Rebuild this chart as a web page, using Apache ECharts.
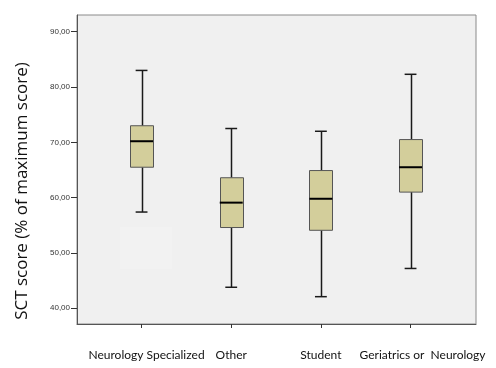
<!DOCTYPE html>
<html><head><meta charset="utf-8">
<script src="https://cdn.jsdelivr.net/npm/echarts@6/dist/echarts.min.js"></script>
<style>html,body{margin:0;padding:0;background:#fff}#c{width:496px;height:368px}</style>
</head><body><div id="c"></div>
<script>
const categories = ['Neurology Specialized', 'Other', 'Student', 'Geriatrics or  Neurology'];
const lowWhisker = [57.4, 43.8, 42.1, 47.2];
const q1 = [65.5, 54.6, 54.1, 61.0];
const median = [70.2, 59.1, 59.8, 65.5];
const q3 = [73.0, 63.6, 64.9, 70.5];
const highWhisker = [83.0, 72.5, 72.0, 82.3];
const yTicks = [40, 50, 60, 70, 80, 90];
const yTitle = 'SCT score (% of maximum score)';

const data = categories.map((c, i) => [i, lowWhisker[i], q1[i], median[i], q3[i], highWhisker[i]]);
const BOX_HALF = 0.128, CAP_HALF = 0.066;

const chart = echarts.init(document.getElementById('c'), null, {renderer: 'canvas'});
chart.setOption({
  animation: false,
  backgroundColor: '#ffffff',
  grid: {left: 77, top: 15, width: 399, height: 309, show: true, backgroundColor: '#f0f0f0', borderColor: '#8a8a8a', borderWidth: 1},
  xAxis: {
    type: 'value', min: -0.72, max: 3.73,
    splitLine: {show: false},
    axisLine: {show: true, onZero: false, lineStyle: {color: '#555', width: 1}},
    axisTick: {show: true, length: 4, lineStyle: {color: '#333'}, customValues: [0, 1, 2, 3]},
    axisLabel: {
      customValues: [0, 1, 2, 3], margin: 25,
      fontFamily: 'Lato', fontSize: 12, color: '#111',
      formatter: v => {
        const i = Math.round(v);
        if (i === 0) return '{a|' + categories[i] + '}';
        if (i === 3) return '{d|' + categories[i] + '}';
        return categories[i];
      },
      rich: {
        a: {fontFamily: 'Lato', fontSize: 12, color: '#111', padding: [0, 0, 0, 10]},
        d: {fontFamily: 'Lato', fontSize: 12, color: '#111', padding: [0, 0, 0, 24]}
      }
    }
  },
  yAxis: {
    type: 'value', min: 37.16, max: 93.02,
    splitLine: {show: false},
    axisLine: {show: true, onZero: false, lineStyle: {color: '#555', width: 1}},
    axisTick: {show: true, length: 6, lineStyle: {color: '#333'}, customValues: yTicks},
    axisLabel: {
      customValues: yTicks, margin: 7,
      fontFamily: 'Liberation Sans', fontSize: 8, color: '#333',
      formatter: v => v.toFixed(2).replace('.', ',')
    }
  },
  graphic: [
    {type: 'rect', shape: {x: 120, y: 227, width: 52, height: 42}, style: {fill: '#f2f2f2'}, z: 1},
    {type: 'text', x: 22, y: 191, rotation: Math.PI / 2, z: 10,
     style: {text: yTitle, fontFamily: 'Open Sans', fontSize: 17, fill: '#111', align: 'center', verticalAlign: 'middle'}}
  ],
  series: [{
    type: 'custom',
    data: data,
    z: 5,
    renderItem: (params, api) => {
      const x = api.value(0);
      const lo = api.value(1), a = api.value(2), m = api.value(3), b = api.value(4), hi = api.value(5);
      const pLo = api.coord([x, lo]), pHi = api.coord([x, hi]);
      const pA = api.coord([x - BOX_HALF, a]), pB = api.coord([x + BOX_HALF, b]);
      const mL = api.coord([x - BOX_HALF, m]), mR = api.coord([x + BOX_HALF, m]);
      const cL = api.coord([x - CAP_HALF, 0])[0], cR = api.coord([x + CAP_HALF, 0])[0];
      const cx = Math.round(pLo[0]) + 0.5;
      const wStyle = {stroke: '#1a1a1a', lineWidth: 1.5};
      return {
        type: 'group',
        children: [
          {type: 'line', shape: {x1: cx, y1: pHi[1], x2: cx, y2: pB[1]}, style: wStyle},
          {type: 'line', shape: {x1: cx, y1: pA[1], x2: cx, y2: pLo[1]}, style: wStyle},
          {type: 'line', shape: {x1: cL, y1: pHi[1], x2: cR, y2: pHi[1]}, style: wStyle},
          {type: 'line', shape: {x1: cL, y1: pLo[1], x2: cR, y2: pLo[1]}, style: wStyle},
          {type: 'rect', shape: {x: Math.round(pA[0]) + 0.5, y: pB[1], width: Math.round(pB[0] - pA[0]), height: pA[1] - pB[1]},
           style: {fill: '#d3ce9b', stroke: '#555', lineWidth: 1}},
          {type: 'line', shape: {x1: mL[0], y1: mL[1], x2: mR[0], y2: mR[1]}, style: {stroke: '#000', lineWidth: 2}}
        ]
      };
    }
  }]
});
</script></body></html>
